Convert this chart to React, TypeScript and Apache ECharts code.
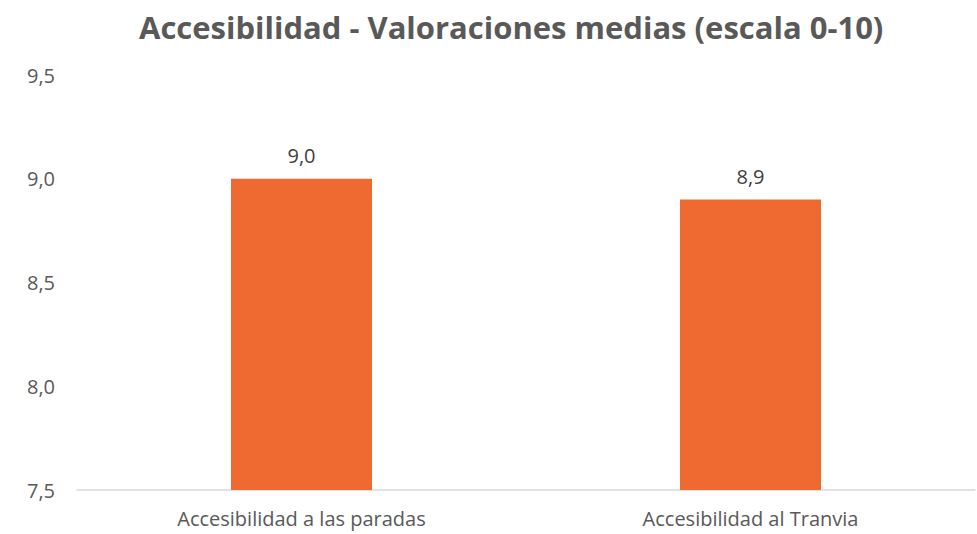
import React, { useEffect, useRef } from "react";
import * as echarts from "echarts";

const categories = ["Accesibilidad a las paradas", "Accesibilidad al Tranvia"];
const values = [9.0, 8.9];
const yTicks = { min: 7.5, max: 9.5, interval: 0.5 };
const titleText = "Accesibilidad - Valoraciones medias (escala 0-10)";

const FONT = "'Open Sans', sans-serif";
const TEXT = "#595959";

export default function App() {
  const ref = useRef<HTMLDivElement>(null);
  useEffect(() => {
    if (!ref.current) return;
    const chart = echarts.init(ref.current, undefined, { renderer: "svg" });
    chart.setOption({
      animation: false,
      backgroundColor: "#ffffff",
      title: {
        text: titleText,
        left: 134,
        top: 2,
        textStyle: { fontFamily: FONT, fontSize: 31, fontWeight: "bold", color: TEXT, lineHeight: 40 },
      },
      grid: { left: 77, right: 2, top: 75, bottom: 44, containLabel: false },
      xAxis: {
        type: "category",
        data: categories,
        axisLine: { lineStyle: { color: "#D9D9D9", width: 1.5 } },
        axisTick: { show: false },
        axisLabel: { fontFamily: FONT, fontSize: 20, color: TEXT, margin: 18 },
      },
      yAxis: {
        type: "value",
        min: yTicks.min,
        max: yTicks.max,
        interval: yTicks.interval,
        splitLine: { show: false },
        axisLine: { show: false },
        axisTick: { show: false },
        axisLabel: {
          fontFamily: FONT,
          fontSize: 20,
          color: TEXT,
          margin: 22,
          formatter: (v: number) => v.toFixed(1).replace(".", ","),
        },
      },
      series: [
        {
          type: "bar",
          data: values,
          barWidth: 141,
          itemStyle: { color: "#EE6A30" },
          label: {
            show: true,
            position: "top",
            distance: 13,
            fontFamily: FONT,
            fontSize: 20,
            color: "#404040",
            formatter: (p: any) => Number(p.value).toFixed(1).replace(".", ","),
          },
        },
      ],
    });
    return () => chart.dispose();
  }, []);
  return (
    <div
      ref={ref}
      style={{ position: "fixed", left: 0, top: 0, width: 977, height: 534 }}
    />
  );
}
